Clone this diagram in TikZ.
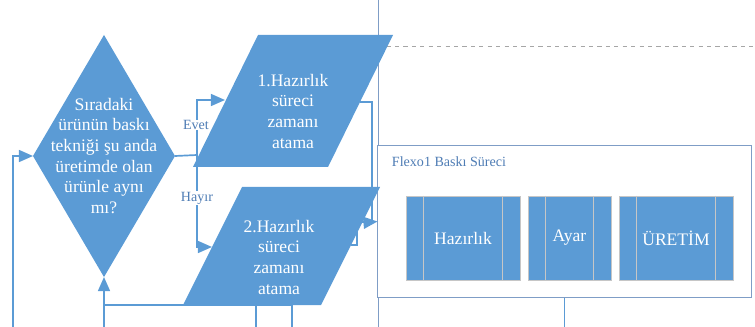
\documentclass[tikz,border=0pt]{standalone}
\usepackage{fontspec}
\setmainfont{Liberation Serif}
\usetikzlibrary{arrows.meta, shapes.geometric, positioning}

\definecolor{flowblue}{HTML}{5B9BD5}
\definecolor{lanegray}{HTML}{7F9DC6}
\definecolor{labelblue}{HTML}{4F7DB5}

\tikzset{
  decision/.style={diamond, fill=flowblue, inner sep=0pt, outer sep=0pt,
    minimum width=3.55cm, minimum height=6.05cm},
  shapetext/.style={align=center, text=white, font=\fontsize{12.5}{14.7}\selectfont},
  line/.style={flowblue, line width=1.2pt},
  conn/.style={line, -{Triangle[length=10pt, width=8.5pt]}},
  branch/.style={fill=white, text=labelblue, font=\fontsize{10}{12}\selectfont, inner sep=0.5pt},
  procbox/.style={fill=flowblue, draw=gray!45, line width=0.6pt, inner sep=0pt,
    minimum height=2.1cm, text=white, font=\fontsize{12.5}{14.7}\selectfont},
}

\begin{document}
\begin{tikzpicture}[x=0.025cm, y=-0.025cm] % 1 unit = 1 px of the sketch

    \useasboundingbox (0, 0) rectangle (755, 327);

    % Lane borders
    \draw[lanegray, line width=0.7pt] (378, 0) -- (378, 327);
    \draw[gray!70, dashed, line width=0.6pt] (378, 46) -- (755, 46);

    % Flexo1 process frame
    \node[draw=lanegray, line width=0.7pt, fill=white, minimum width=9.325cm,
          minimum height=3.775cm, inner sep=0pt] (flexo) at (564.5, 221.5) {};
    \node[anchor=west, text=labelblue, font=\fontsize{10}{12}\selectfont]
          (flexotitle) at (387, 162) {Flexo1 Baskı Süreci};

    % Sub-process boxes
    \foreach \nm/\cx/\w/\txt in {
            hazirlik/463/2.85/Hazırlık,
            ayar/569.5/2.075/Ayar,
            uretim/676/2.85/ÜRETİM
        } {
        \node[procbox, minimum width=\w cm] (\nm) at (\cx, 238) {\txt};
        \draw[gray!45, line width=0.6pt] ([xshift=0.44cm]\nm.north west) -- ([xshift=0.44cm]\nm.south west);
        \draw[gray!45, line width=0.6pt] ([xshift=-0.44cm]\nm.north east) -- ([xshift=-0.44cm]\nm.south east);
    }

    % Anchor points on the slanted shapes
    \coordinate (split) at (197, 155);
    \coordinate (p1in) at (225, 100);
    \coordinate (p2in) at (212, 247);
    \coordinate (p1out) at (360, 102);
    \coordinate (p2out) at (351, 245);
    \coordinate (join) at (372, 222);
    \coordinate (p2bend) at (357, 222);
    \coordinate (loopin) at (13, 327);
    \coordinate (backin) at (104, 327);
    \coordinate (backrow) at (104, 305);
    \coordinate (rowend) at (292, 305);
    \coordinate (drop1) at (256, 305);
    \coordinate (drop2) at (292, 305);
    \coordinate (flexoout) at (564.5, 327);

    % Decision
    \node[decision] (q) at (104, 156) {};

    % Connectors
    \draw[line] (q.east) -- (split);
    \draw[conn] (split) |- (p1in);
    \draw[conn] (split) |- (p2in);
    \draw[conn] (loopin) |- (q.west);
    \draw[conn] (backin) -- (q.south);
    \draw[line] (backrow) -- (rowend);
    \draw[line] (drop1) -- (256, 327);
    \draw[line] (drop2) -- (292, 327);
    \draw[conn] (p1out) -| (join) -- (flexo.west);
    \draw[line] (p2out) -| (p2bend) -- (join);
    \draw[line] (flexo.south) -- (flexoout);

    % Branch labels
    \node[branch] (evet) at (196, 125) {Evet};
    \node[branch] (hayir) at (197, 198) {Hayır};

    % Parallelograms
    \fill[flowblue] (258, 35) -- (393, 35) -- (328, 167) -- (193, 167) -- cycle;
    \fill[flowblue] (242, 187) -- (380, 187) -- (321, 305) -- (183, 305) -- cycle;

    % Texts
    \node[shapetext] (qtext) at (104, 156)
        {Sıradaki\\ürünün baskı\\tekniği şu anda\\üretimde olan\\ürünle aynı\\mı?};
    \node[shapetext] (p1) at (293, 111) {1.Hazırlık\\süreci\\zamanı\\atama};
    \node[shapetext] (p2) at (279, 257) {2.Hazırlık\\süreci\\zamanı\\atama};

\end{tikzpicture}
\end{document}
